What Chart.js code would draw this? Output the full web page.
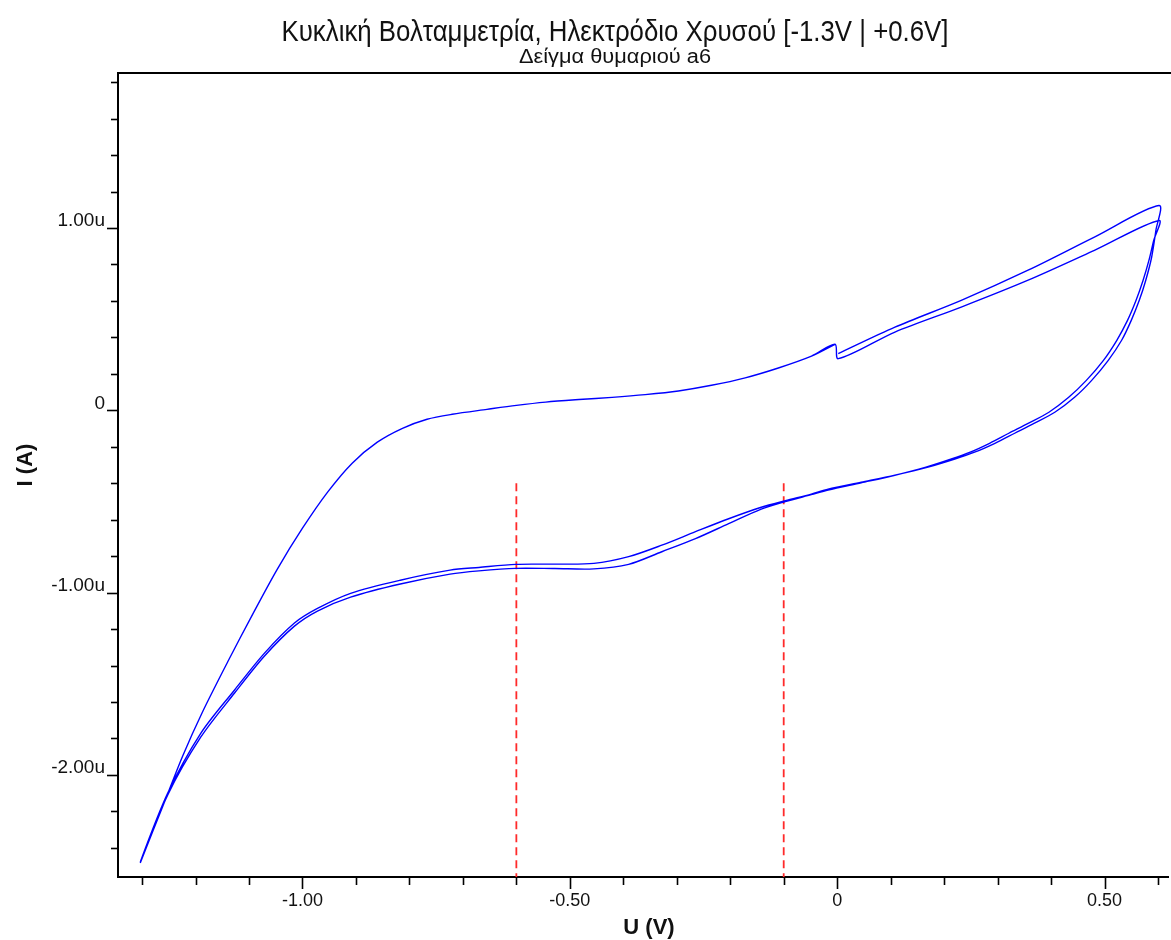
<!DOCTYPE html>
<html><head><meta charset="utf-8">
<script src="https://cdn.jsdelivr.net/npm/chart.js@4.4.1/dist/chart.umd.min.js"></script>
<style>html,body{margin:0;padding:0;background:#fff;overflow:hidden}</style>
</head><body>
<canvas id="c" width="1171" height="940"></canvas>
<script>
// ---- data (U in V, I in µA) ----
// anodic sweep 0 -> +0.6 V (cycle 1, cycle 2)
const posU  = [0.002, 0.108, 0.232, 0.356, 0.481, 0.602];
const posI1 = [0.311, 0.456, 0.603, 0.767, 0.950, 1.123];
const posI2 = [0.283, 0.429, 0.566, 0.712, 0.877, 1.041];

// cathodic sweep +0.6 -> 0 V
const revU1 = [0.596, 0.588, 0.577, 0.565, 0.550, 0.532, 0.507, 0.476, 0.444, 0.407, 0.369, 0.332, 0.295, 0.257, 0.220, 0.170, 0.108, 0.045, -0.017];
const revI1 = [0.986, 0.838, 0.712, 0.603, 0.493, 0.384, 0.274, 0.164, 0.071, -0.011, -0.071, -0.126, -0.181, -0.230, -0.268, -0.312, -0.356, -0.395, -0.433];
const revU2 = [0.592, 0.583, 0.572, 0.559, 0.543, 0.523, 0.498, 0.466, 0.433, 0.396, 0.358, 0.321, 0.285, 0.250, 0.215, 0.166, 0.106, 0.045, -0.017];
const revI2 = [0.932, 0.822, 0.712, 0.603, 0.493, 0.384, 0.274, 0.164, 0.071, -0.011, -0.071, -0.126, -0.181, -0.228, -0.266, -0.312, -0.358, -0.398, -0.438];

// cathodic sweep 0 -> -1.3 V
const negU  = [-0.0485, -0.097, -0.142, -0.203, -0.265, -0.328, -0.390, -0.455, -0.528, -0.601, -0.670, -0.724, -0.817, -0.910, -0.972, -1.015, -1.071, -1.127, -1.190, -1.252, -1.303];
const negI1 = [-0.460, -0.496, -0.532, -0.595, -0.666, -0.740, -0.803, -0.840, -0.844, -0.845, -0.862, -0.877, -0.932, -1.004, -1.087, -1.167, -1.332, -1.534, -1.771, -2.100, -2.475];
const negI2 = [-0.463, -0.501, -0.542, -0.622, -0.704, -0.776, -0.845, -0.870, -0.868, -0.867, -0.881, -0.899, -0.953, -1.025, -1.101, -1.184, -1.348, -1.551, -1.792, -2.110, -2.480];

// anodic sweep -1.3 -> 0 V
const fwdU = [-1.261, -1.224, -1.187, -1.140, -1.093, -1.047, -1.000, -0.953, -0.907, -0.860, -0.813, -0.767, -0.720, -0.655, -0.600, -0.545, -0.483, -0.421, -0.359, -0.297, -0.235, -0.172, -0.110, -0.048, -0.004];
const fwdI = [-2.170, -1.896, -1.655, -1.381, -1.118, -0.871, -0.647, -0.449, -0.290, -0.175, -0.099, -0.049, -0.022, 0.005, 0.027, 0.045, 0.059, 0.071, 0.086, 0.106, 0.137, 0.178, 0.232, 0.297, 0.362];

// red dashed markers
const markerU = [-0.6, -0.1];
const markerTopI = -0.40;

// axes
const xMin = -1.345, xMax = 0.62, xStep = 0.1, xMajor = 0.5;
const yMin = -2.56, yMax = 1.85, yStep = 0.2, yMajor = 1.0;

const TITLE = 'Κυκλική Βολταμμετρία, Ηλεκτρόδιο Χρυσού [-1.3V | +0.6V]';
const SUBTITLE = 'Δείγμα θυμαριού a6';
const X_TITLE = 'U (V)';
const Y_TITLE = 'I (A)';

// ---- build ----
const zip = (u, i) => u.map((v, k) => ({x: v, y: i[k]}));
const scan = [].concat(
  zip(posU, posI1), zip(revU1, revI1), zip(negU, negI1), zip(fwdU, fwdI),
  zip(posU, posI2), zip(revU2, revI2), zip(negU, negI2), zip(fwdU, fwdI)
);

const FONT = '"Liberation Sans", Arial, sans-serif';
const isMajor = (v, m) => Math.abs(v / m - Math.round(v / m)) < 1e-6;

function fitText(ctx, text, cx, cy, font, width) {
  ctx.save();
  ctx.font = font;
  const w = ctx.measureText(text).width;
  ctx.translate(cx, cy);
  ctx.scale(width / w, 1);
  ctx.fillText(text, 0, 0);
  ctx.restore();
}

const framePlugin = {
  id: 'frame',
  afterDraw(chart) {
    const {ctx, chartArea: a, scales: {x, y}} = chart;
    ctx.save();
    ctx.strokeStyle = '#000';
    ctx.lineWidth = 2;
    ctx.beginPath();
    ctx.moveTo(a.left - 1, a.top); ctx.lineTo(chart.width, a.top);
    ctx.stroke();
    ctx.lineWidth = 1.6;
    x.ticks.forEach(t => {
      if (t.value < xMin - 1e-9 || t.value > xMax + 1e-9) return;
      const px = Math.round(x.getPixelForValue(t.value)) + 0.5;
      const len = isMajor(t.value, xMajor) ? 12 : 8;
      ctx.beginPath(); ctx.moveTo(px, a.bottom); ctx.lineTo(px, a.bottom + len); ctx.stroke();
    });
    y.ticks.forEach(t => {
      if (t.value < yMin - 1e-9 || t.value > yMax + 1e-9) return;
      const py = Math.round(y.getPixelForValue(t.value)) + 0.5;
      const len = isMajor(t.value, yMajor) ? 11 : 7;
      ctx.beginPath(); ctx.moveTo(a.left, py); ctx.lineTo(a.left - len, py); ctx.stroke();
    });
    // titles
    ctx.fillStyle = '#111';
    ctx.textAlign = 'center';
    ctx.textBaseline = 'middle';
    fitText(ctx, TITLE, 615, 33, '30px ' + FONT, 667);
    fitText(ctx, SUBTITLE, 615, 57, '20px ' + FONT, 192);
    ctx.font = 'bold 22px ' + FONT;
    ctx.fillText(X_TITLE, 649, 928);
    ctx.save();
    ctx.translate(26, 465);
    ctx.rotate(-Math.PI / 2);
    ctx.fillText(Y_TITLE, 0, 0);
    ctx.restore();
    ctx.restore();
  }
};

const markerSets = markerU.map(u => ({
  data: [{x: u, y: markerTopI}, {x: u, y: yMin}],
  showLine: true, borderColor: '#ff2a2a', borderDash: [8, 5], borderWidth: 1.8,
  pointRadius: 0, pointBorderWidth: 0, fill: false, tension: 0
}));

new Chart(document.getElementById('c'), {
  type: 'scatter',
  data: {datasets: [
    {data: scan, showLine: true, borderColor: '#0000ff', borderWidth: 1.4, pointRadius: 0, pointBorderWidth: 0, tension: 0.3, fill: false},
    ...markerSets
  ]},
  options: {
    responsive: false, animation: false, devicePixelRatio: 1,
    layout: {autoPadding: false, padding: {left: 0, top: 73, right: 0, bottom: 0}},
    plugins: {legend: {display: false}, tooltip: {enabled: false}, title: {display: false}},
    scales: {
      x: {
        type: 'linear', min: xMin, max: xMax,
        afterFit(s) { s.height = 63; },
        grid: {display: false, drawTicks: false},
        border: {display: true, color: '#000', width: 2},
        ticks: {
          stepSize: xStep, includeBounds: false, autoSkip: false, maxRotation: 0, minRotation: 0,
          padding: 13, color: '#111', font: {family: FONT, size: 18},
          callback: v => isMajor(v, xMajor) ? (Math.abs(v) < 1e-9 ? '0' : v.toFixed(2)) : ''
        }
      },
      y: {
        type: 'linear', min: yMin, max: yMax,
        afterFit(s) { s.width = 118; },
        grid: {display: false, drawTicks: false},
        border: {display: true, color: '#000', width: 2},
        ticks: {
          stepSize: yStep, includeBounds: false, autoSkip: false,
          padding: 13, labelOffset: -7, color: '#111', font: {family: FONT, size: 19},
          callback: v => isMajor(v, yMajor) ? (Math.abs(v) < 1e-9 ? '0' : v.toFixed(2) + 'u') : ''
        }
      }
    }
  },
  plugins: [framePlugin]
});
</script>
</body></html>
